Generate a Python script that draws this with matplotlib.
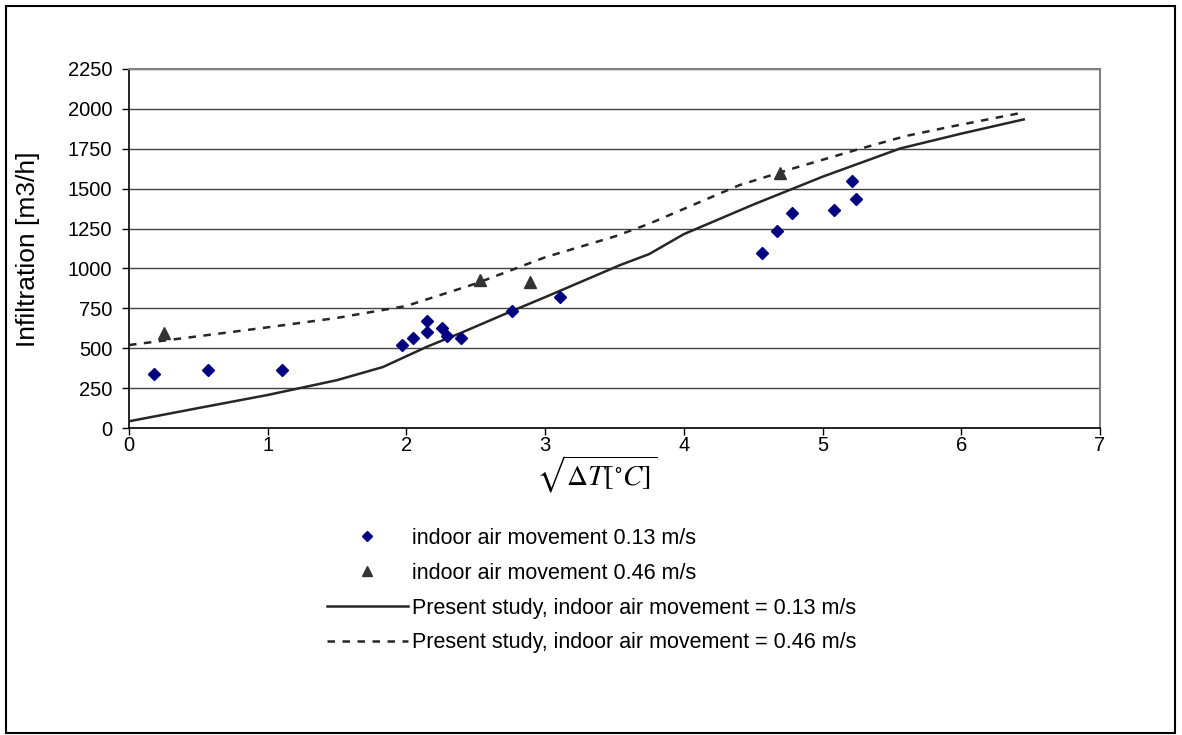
import matplotlib
matplotlib.use("Agg")
import matplotlib.pyplot as plt
from matplotlib.lines import Line2D
from matplotlib.patches import Rectangle

plt.rcParams["font.family"] = ["Liberation Sans", "DejaVu Sans"]
plt.rcParams["mathtext.fontset"] = "stix"

# measured points, indoor air movement 0.13 m/s
x_013 = [0.18, 0.57, 1.10, 1.97, 2.05, 2.15, 2.15, 2.26, 2.29, 2.39, 2.76, 3.11,
         4.56, 4.67, 4.78, 5.08, 5.21, 5.24]
y_013 = [338, 363, 363, 522, 566, 668, 600, 627, 578, 566, 733, 819,
         1095, 1236, 1349, 1366, 1546, 1435]

# measured points, indoor air movement 0.46 m/s
x_046 = [0.25, 2.53, 2.89, 4.69]
y_046 = [593, 927, 917, 1600]

# present study, 0.13 m/s
x_ps013 = [0, 0.5, 1.0, 1.5, 1.83, 2.0, 2.15, 2.39, 2.76, 3.0, 3.54, 3.75, 4.0,
           4.5, 5.0, 5.56, 6.0, 6.45]
y_ps013 = [42, 125, 207, 300, 382, 450, 510, 595, 733, 820, 1021, 1090, 1215,
           1400, 1575, 1752, 1845, 1934]

# present study, 0.46 m/s
x_ps046 = [0, 0.5, 1.0, 1.5, 2.0, 2.5, 3.0, 3.5, 3.75, 4.12, 4.4, 4.8, 5.25,
           5.6, 5.92, 6.45]
y_ps046 = [520, 575, 631, 690, 765, 905, 1070, 1200, 1280, 1418, 1522, 1630,
           1745, 1830, 1888, 1978]

fig = plt.figure(figsize=(11.82, 7.35), dpi=100)
ax = fig.add_axes([129 / 1182, 1 - 428 / 735, (1100 - 129) / 1182, (428 - 69) / 735])

ax.plot(x_ps013, y_ps013, "-", color="#262626", lw=1.8, zorder=3)
ax.plot(x_ps046, y_ps046, color="#262626", lw=1.8, dashes=(3, 3), zorder=3)
ax.plot(x_013, y_013, "D", color="#000080", ms=6.5, ls="none", zorder=4)
ax.plot(x_046, y_046, "^", color="#333333", ms=8, ls="none", zorder=4)

ax.set_xlim(0, 7)
ax.set_ylim(0, 2250)
ax.set_xticks(range(0, 8))
ax.set_yticks(range(0, 2251, 250))
ax.yaxis.grid(True, color="#444444", lw=1)
ax.set_axisbelow(True)
ax.tick_params(labelsize=14.5, length=5, width=1, color="black")
ax.tick_params(axis="x", pad=1)
ax.tick_params(axis="y", pad=7)
ax.spines["top"].set_color("#808080")
ax.spines["right"].set_color("#808080")
ax.spines["top"].set_linewidth(1.5)
ax.spines["right"].set_linewidth(1.5)
ax.spines["left"].set_linewidth(1.2)
ax.spines["bottom"].set_linewidth(1.2)

fig.text(28 / 1182, 1 - 249 / 735, "Infiltration [m3/h]", rotation=90,
         ha="center", va="center", fontsize=19)
fig.text(597 / 1182, 1 - 474 / 735, r"$\sqrt{\Delta T[^{\circ}C]}$",
         ha="center", va="center", fontsize=21)

handles = [
    Line2D([], [], marker="D", color="#000080", ls="none", ms=5.5),
    Line2D([], [], marker="^", color="#333333", ls="none", ms=6.5),
    Line2D([], [], color="#262626", lw=1.8),
    Line2D([], [], color="#262626", lw=1.8, dashes=(3, 3)),
]
labels = [
    "indoor air movement 0.13 m/s",
    "indoor air movement 0.46 m/s",
    "Present study, indoor air movement = 0.13 m/s",
    "Present study, indoor air movement = 0.46 m/s",
]
fig.legend(handles, labels, loc="upper left", bbox_to_anchor=(327 / 1182, 1 - 528 / 735),
           frameon=False, fontsize=15.5, handlelength=3.75, handletextpad=0.22,
           labelspacing=0.64, borderpad=0, borderaxespad=0, numpoints=1)

fig.patches.append(Rectangle((6 / 1182, 2 / 735), 1169 / 1182, 727 / 735,
                             transform=fig.transFigure, fill=False,
                             edgecolor="black", lw=1.5))

fig.savefig("out.png", dpi=100)
